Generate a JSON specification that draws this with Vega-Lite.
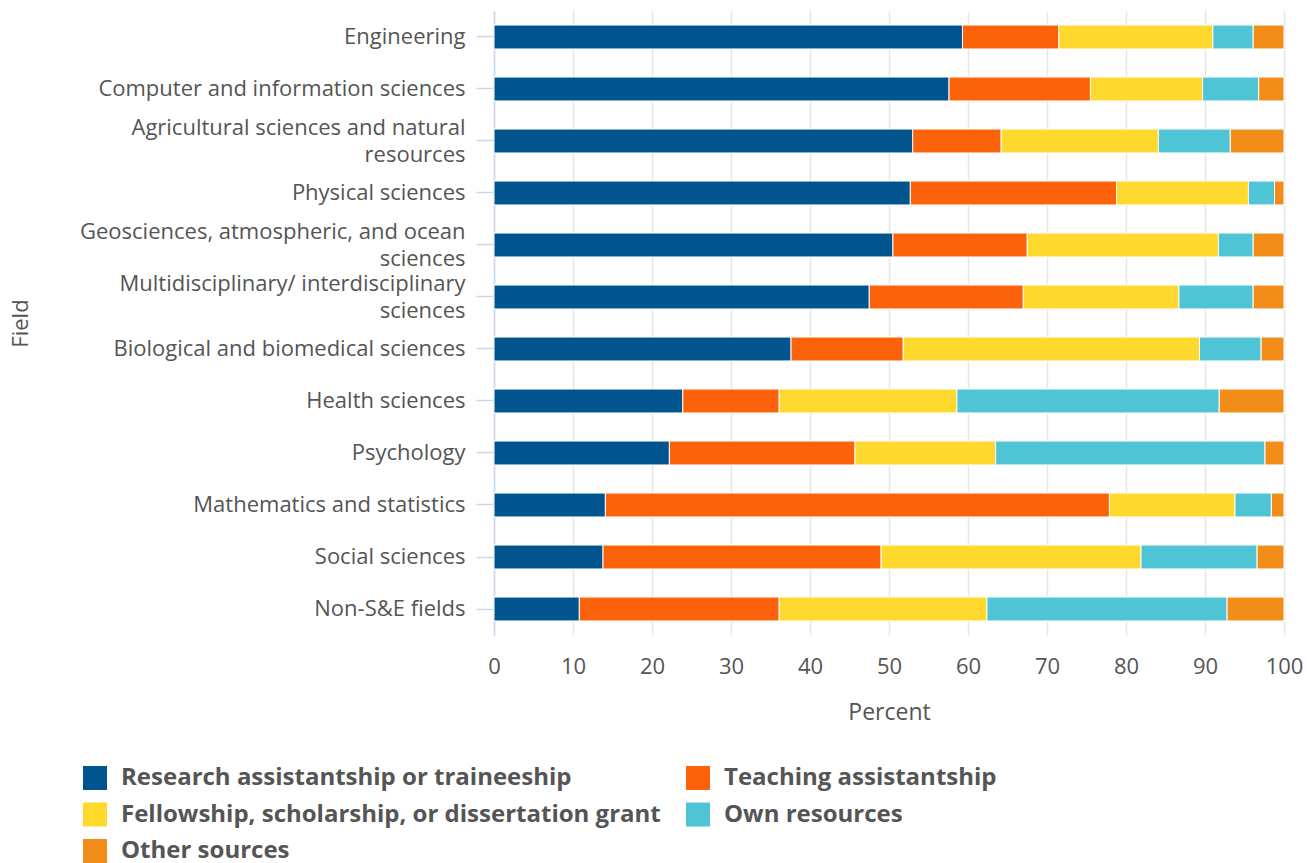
{
  "$schema": "https://vega.github.io/schema/vega-lite/v6.json",
  "autosize": {"type": "none"},
  "width": 790,
  "height": 624,
  "padding": {"left": 494, "top": 11, "right": 23, "bottom": 228},
  "background": "white",
  "config": {
    "font": "Open Sans",
    "view": {"stroke": null}
  },
  "data": {
    "values": [
      {"field": "Engineering", "source": "Research assistantship or traineeship", "k": 1, "pct": 59.3},
      {"field": "Engineering", "source": "Teaching assistantship", "k": 2, "pct": 12.2},
      {"field": "Engineering", "source": "Fellowship, scholarship, or dissertation grant", "k": 3, "pct": 19.5},
      {"field": "Engineering", "source": "Own resources", "k": 4, "pct": 5.1},
      {"field": "Engineering", "source": "Other sources", "k": 5, "pct": 3.9},
      {"field": "Computer and information sciences", "source": "Research assistantship or traineeship", "k": 1, "pct": 57.6},
      {"field": "Computer and information sciences", "source": "Teaching assistantship", "k": 2, "pct": 17.9},
      {"field": "Computer and information sciences", "source": "Fellowship, scholarship, or dissertation grant", "k": 3, "pct": 14.2},
      {"field": "Computer and information sciences", "source": "Own resources", "k": 4, "pct": 7.1},
      {"field": "Computer and information sciences", "source": "Other sources", "k": 5, "pct": 3.2},
      {"field": "Agricultural sciences and natural resources", "source": "Research assistantship or traineeship", "k": 1, "pct": 53.0},
      {"field": "Agricultural sciences and natural resources", "source": "Teaching assistantship", "k": 2, "pct": 11.2},
      {"field": "Agricultural sciences and natural resources", "source": "Fellowship, scholarship, or dissertation grant", "k": 3, "pct": 19.9},
      {"field": "Agricultural sciences and natural resources", "source": "Own resources", "k": 4, "pct": 9.1},
      {"field": "Agricultural sciences and natural resources", "source": "Other sources", "k": 5, "pct": 6.8},
      {"field": "Physical sciences", "source": "Research assistantship or traineeship", "k": 1, "pct": 52.7},
      {"field": "Physical sciences", "source": "Teaching assistantship", "k": 2, "pct": 26.1},
      {"field": "Physical sciences", "source": "Fellowship, scholarship, or dissertation grant", "k": 3, "pct": 16.7},
      {"field": "Physical sciences", "source": "Own resources", "k": 4, "pct": 3.3},
      {"field": "Physical sciences", "source": "Other sources", "k": 5, "pct": 1.2},
      {"field": "Geosciences, atmospheric, and ocean sciences", "source": "Research assistantship or traineeship", "k": 1, "pct": 50.5},
      {"field": "Geosciences, atmospheric, and ocean sciences", "source": "Teaching assistantship", "k": 2, "pct": 17.0},
      {"field": "Geosciences, atmospheric, and ocean sciences", "source": "Fellowship, scholarship, or dissertation grant", "k": 3, "pct": 24.2},
      {"field": "Geosciences, atmospheric, and ocean sciences", "source": "Own resources", "k": 4, "pct": 4.4},
      {"field": "Geosciences, atmospheric, and ocean sciences", "source": "Other sources", "k": 5, "pct": 3.9},
      {"field": "Multidisciplinary/ interdisciplinary sciences", "source": "Research assistantship or traineeship", "k": 1, "pct": 47.5},
      {"field": "Multidisciplinary/ interdisciplinary sciences", "source": "Teaching assistantship", "k": 2, "pct": 19.5},
      {"field": "Multidisciplinary/ interdisciplinary sciences", "source": "Fellowship, scholarship, or dissertation grant", "k": 3, "pct": 19.7},
      {"field": "Multidisciplinary/ interdisciplinary sciences", "source": "Own resources", "k": 4, "pct": 9.4},
      {"field": "Multidisciplinary/ interdisciplinary sciences", "source": "Other sources", "k": 5, "pct": 3.9},
      {"field": "Biological and biomedical sciences", "source": "Research assistantship or traineeship", "k": 1, "pct": 37.6},
      {"field": "Biological and biomedical sciences", "source": "Teaching assistantship", "k": 2, "pct": 14.2},
      {"field": "Biological and biomedical sciences", "source": "Fellowship, scholarship, or dissertation grant", "k": 3, "pct": 37.5},
      {"field": "Biological and biomedical sciences", "source": "Own resources", "k": 4, "pct": 7.8},
      {"field": "Biological and biomedical sciences", "source": "Other sources", "k": 5, "pct": 2.9},
      {"field": "Health sciences", "source": "Research assistantship or traineeship", "k": 1, "pct": 23.9},
      {"field": "Health sciences", "source": "Teaching assistantship", "k": 2, "pct": 12.2},
      {"field": "Health sciences", "source": "Fellowship, scholarship, or dissertation grant", "k": 3, "pct": 22.5},
      {"field": "Health sciences", "source": "Own resources", "k": 4, "pct": 33.2},
      {"field": "Health sciences", "source": "Other sources", "k": 5, "pct": 8.2},
      {"field": "Psychology", "source": "Research assistantship or traineeship", "k": 1, "pct": 22.2},
      {"field": "Psychology", "source": "Teaching assistantship", "k": 2, "pct": 23.5},
      {"field": "Psychology", "source": "Fellowship, scholarship, or dissertation grant", "k": 3, "pct": 17.8},
      {"field": "Psychology", "source": "Own resources", "k": 4, "pct": 34.1},
      {"field": "Psychology", "source": "Other sources", "k": 5, "pct": 2.4},
      {"field": "Mathematics and statistics", "source": "Research assistantship or traineeship", "k": 1, "pct": 14.1},
      {"field": "Mathematics and statistics", "source": "Teaching assistantship", "k": 2, "pct": 63.8},
      {"field": "Mathematics and statistics", "source": "Fellowship, scholarship, or dissertation grant", "k": 3, "pct": 15.9},
      {"field": "Mathematics and statistics", "source": "Own resources", "k": 4, "pct": 4.6},
      {"field": "Mathematics and statistics", "source": "Other sources", "k": 5, "pct": 1.6},
      {"field": "Social sciences", "source": "Research assistantship or traineeship", "k": 1, "pct": 13.8},
      {"field": "Social sciences", "source": "Teaching assistantship", "k": 2, "pct": 35.2},
      {"field": "Social sciences", "source": "Fellowship, scholarship, or dissertation grant", "k": 3, "pct": 32.9},
      {"field": "Social sciences", "source": "Own resources", "k": 4, "pct": 14.7},
      {"field": "Social sciences", "source": "Other sources", "k": 5, "pct": 3.4},
      {"field": "Non-S&E fields", "source": "Research assistantship or traineeship", "k": 1, "pct": 10.8},
      {"field": "Non-S&E fields", "source": "Teaching assistantship", "k": 2, "pct": 25.3},
      {"field": "Non-S&E fields", "source": "Fellowship, scholarship, or dissertation grant", "k": 3, "pct": 26.3},
      {"field": "Non-S&E fields", "source": "Own resources", "k": 4, "pct": 30.4},
      {"field": "Non-S&E fields", "source": "Other sources", "k": 5, "pct": 7.2}
    ]
  },
  "mark": {"type": "bar", "stroke": "white", "strokeWidth": 1},
  "encoding": {
    "y": {
      "field": "field",
      "type": "nominal",
      "sort": ["Engineering", "Computer and information sciences", "Agricultural sciences and natural resources", "Physical sciences", "Geosciences, atmospheric, and ocean sciences", "Multidisciplinary/ interdisciplinary sciences", "Biological and biomedical sciences", "Health sciences", "Psychology", "Mathematics and statistics", "Social sciences", "Non-S&E fields"],
      "scale": {"paddingInner": 0.54, "paddingOuter": 0.27},
      "axis": {
        "title": "Field",
        "titleFont": "Open Sans",
        "titleFontSize": 22,
        "titleFontWeight": "normal",
        "titleColor": "#555555",
        "titleX": -474,
        "titleY": 312,
        "titleAngle": -90,
        "titleAlign": "center",
        "titleBaseline": "middle",
        "labelFont": "Open Sans",
        "labelFontSize": 22,
        "labelColor": "#555555",
        "labelLimit": 460,
        "labelPadding": 11,
        "labelLineHeight": 27,
        "labelExpr": "datum.value == 'Agricultural sciences and natural resources' ? ['Agricultural sciences and natural', 'resources'] : datum.value == 'Geosciences, atmospheric, and ocean sciences' ? ['Geosciences, atmospheric, and ocean', 'sciences'] : datum.value == 'Multidisciplinary/ interdisciplinary sciences' ? ['Multidisciplinary/ interdisciplinary', 'sciences'] : datum.value",
        "labelOffset": {
          "condition": {
            "test": "indexof(['Agricultural sciences and natural resources', 'Geosciences, atmospheric, and ocean sciences', 'Multidisciplinary/ interdisciplinary sciences'], datum.value) >= 0",
            "value": -13.5
          },
          "value": 0
        },
        "tickSize": 18,
        "tickColor": "#ccd6eb",
        "tickWidth": 1.5,
        "domainColor": "#ccd6eb",
        "domainWidth": 1.5,
        "grid": false
      }
    },
    "x": {
      "field": "pct",
      "type": "quantitative",
      "stack": "zero",
      "scale": {"domain": [0, 100], "nice": false},
      "axis": {
        "title": "Percent",
        "titleFont": "Open Sans",
        "titleFontSize": 23,
        "titleFontWeight": "normal",
        "titleColor": "#555555",
        "titlePadding": 24,
        "values": [0, 10, 20, 30, 40, 50, 60, 70, 80, 90, 100],
        "labelFont": "Open Sans",
        "labelFontSize": 22,
        "labelColor": "#555555",
        "labelPadding": 21,
        "labelFlush": false,
        "ticks": false,
        "domain": false,
        "grid": true,
        "gridColor": "#e6e6e6",
        "gridWidth": 1.5
      }
    },
    "color": {
      "field": "source",
      "type": "nominal",
      "scale": {
        "domain": ["Research assistantship or traineeship", "Teaching assistantship", "Fellowship, scholarship, or dissertation grant", "Own resources", "Other sources"],
        "range": ["#00558F", "#FC6209", "#FFD92D", "#4FC4D4", "#F28D1A"]
      },
      "legend": {
        "title": null,
        "orient": "none",
        "legendX": -411,
        "legendY": 755,
        "direction": "horizontal",
        "columns": 2,
        "columnPadding": 25,
        "rowPadding": 12.5,
        "padding": 0,
        "symbolType": "square",
        "symbolSize": 576,
        "symbolStrokeWidth": 0,
        "symbolOpacity": 1,
        "labelFont": "Open Sans",
        "labelFontSize": 24,
        "labelFontWeight": "bold",
        "labelColor": "#555555",
        "labelOffset": 14,
        "labelLimit": 700
      }
    },
    "order": {"field": "k", "type": "quantitative", "sort": "ascending"}
  }
}
